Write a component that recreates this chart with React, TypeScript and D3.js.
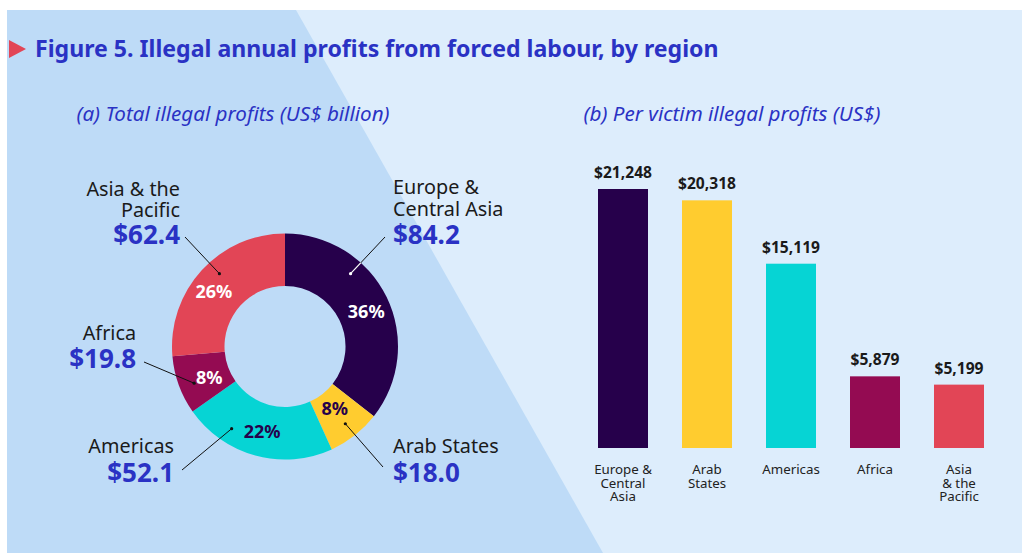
import React from "react";
import * as d3 from "d3";

const regions = ["Europe & Central Asia", "Arab States", "Americas", "Africa", "Asia & the Pacific"];
const totalProfits = [84.2, 18.0, 52.1, 19.8, 62.4];
const perVictimProfits = [21248, 20318, 15119, 5879, 5199];
const regionColors = ["#26004b", "#ffcc2f", "#06d4d4", "#940b52", "#e24556"];
const pctTextColors = ["#ffffff", "#26004b", "#26004b", "#ffffff", "#ffffff"];
const donutLabelLines = [["Europe &", "Central Asia"], ["Arab States"], ["Americas"], ["Africa"], ["Asia & the", "Pacific"]];
const barLabelLines = [["Europe &", "Central", "Asia"], ["Arab", "States"], ["Americas"], ["Africa"], ["Asia", "& the", "Pacific"]];

const title = "Figure 5. Illegal annual profits from forced labour, by region";
const subA = "(a) Total illegal profits (US$ billion)";
const subB = "(b) Per victim illegal profits (US$)";

// layout for donut annotations (not data)
const annLayout = [
  { angle: 42, ox: 385, oy: 237, tx: 393, anchor: "start", lineY: [194, 216], valY: 244, pdx: 3, pdy: 3 },
  { angle: 142, ox: 383, oy: 467, tx: 393, anchor: "start", lineY: [453], valY: 482, pdx: -4, pdy: -6 },
  { angle: 213, ox: 182, oy: 470, tx: 174, anchor: "end", lineY: [453], valY: 482, pdx: 0, pdy: 1 },
  { angle: 248, ox: 144, oy: 362, tx: 136, anchor: "end", lineY: [340], valY: 368, pdx: 6, pdy: 1 },
  { angle: 318, ox: 185, oy: 237, tx: 180, anchor: "end", lineY: [196, 217], valY: 244, pdx: -7, pdy: 4 },
];

const FONT = "'Noto Sans', 'Open Sans', sans-serif";
const BLUE = "#2a32c4";

export default function App() {
  const W = 1022, H = 553;
  const cx = 285, cy = 346.5, rOut = 113, rIn = 60.5;
  const total = d3.sum(totalProfits);
  const pie = d3.pie<number>().sort(null).value((d) => d)(totalProfits);
  const arc = d3.arc<d3.PieArcDatum<number>>().innerRadius(rIn).outerRadius(rOut);
  const labelArc = d3.arc<d3.PieArcDatum<number>>().innerRadius(87).outerRadius(87);

  const xB = d3.scalePoint<string>().domain(regions).range([623, 959]);
  const yB = d3.scaleLinear().domain([0, 21248]).range([448, 189]);
  const bw = 50;

  const fmt = d3.format(",");

  return (
    <svg width={W} height={H} style={{ position: "absolute", left: 0, top: 0, display: "block" }}>
      <rect x={0} y={0} width={W} height={H} fill="#ffffff" />
      <rect x={7} y={10} width={W - 7} height={H - 10} fill="#ddedfc" />
      <polygon points={`7,10 296,10 603,${H} 7,${H}`} fill="#bedbf7" />

      <polygon points="9,40 26,49 9,58" fill="#e24556" />
      <text x={35} y={57} fontFamily={FONT} fontWeight={700} fontSize={23.1} fill={BLUE}>{title}</text>
      <text x={233} y={121} textAnchor="middle" fontFamily={FONT} fontStyle="italic" fontSize={20.6} fill={BLUE}>{subA}</text>
      <text x={732} y={121} textAnchor="middle" fontFamily={FONT} fontStyle="italic" fontSize={20.6} fill={BLUE}>{subB}</text>

      <defs>
        <clipPath id="clipEurope">
          <path d={arc(pie[0]) || ""} transform={`translate(${cx},${cy})`} />
        </clipPath>
      </defs>

      <g transform={`translate(${cx},${cy})`}>
        {pie.map((p, i) => (
          <path key={i} d={arc(p) || ""} fill={regionColors[i]} />
        ))}
        {pie.map((p, i) => {
          const [lx, ly] = labelArc.centroid(p);
          return (
            <text key={"p" + i} x={lx + annLayout[i].pdx} y={ly + 6.5 + annLayout[i].pdy} textAnchor="middle" fontFamily={FONT} fontWeight={700} fontSize={18} fill={pctTextColors[i]}>
              {Math.round((p.value / total) * 100) + "%"}
            </text>
          );
        })}
      </g>

      {annLayout.map((a, i) => {
        const rad = (a.angle * Math.PI) / 180;
        const ix = cx + 98 * Math.sin(rad);
        const iy = cy - 98 * Math.cos(rad);
        return (
          <g key={"a" + i}>
            <line x1={a.ox} y1={a.oy} x2={ix} y2={iy} stroke="#111" strokeWidth={1} />
            {i === 0 && (
              <line x1={a.ox} y1={a.oy} x2={ix} y2={iy} stroke="#fff" strokeWidth={1.2} clipPath="url(#clipEurope)" />
            )}
            <circle cx={ix} cy={iy} r={1.6} fill={i === 0 ? "#fff" : "#111"} />
            {donutLabelLines[i].map((t, j) => (
              <text key={j} x={a.tx} y={a.lineY[j]} textAnchor={a.anchor} fontFamily={FONT} fontSize={19.8} fill="#1a1a1a">{t}</text>
            ))}
            <text x={a.tx} y={a.valY} textAnchor={a.anchor} fontFamily={FONT} fontWeight={700} fontSize={26} fill={BLUE}>
              {"$" + totalProfits[i].toFixed(1)}
            </text>
          </g>
        );
      })}

      {regions.map((r, i) => {
        const xc = xB(r) as number;
        const top = yB(perVictimProfits[i]);
        return (
          <g key={"b" + i}>
            <rect x={xc - bw / 2} y={top} width={bw} height={yB(0) - top} fill={regionColors[i]} />
            <text x={xc} y={top - 11} textAnchor="middle" fontFamily={FONT} fontWeight={700} fontSize={15.6} fill="#1a1a1a">
              {"$" + fmt(perVictimProfits[i])}
            </text>
            {barLabelLines[i].map((t, j) => (
              <text key={j} x={xc} y={474 + j * 13.5} textAnchor="middle" fontFamily={FONT} fontSize={13.3} fill="#222">{t}</text>
            ))}
          </g>
        );
      })}
    </svg>
  );
}
